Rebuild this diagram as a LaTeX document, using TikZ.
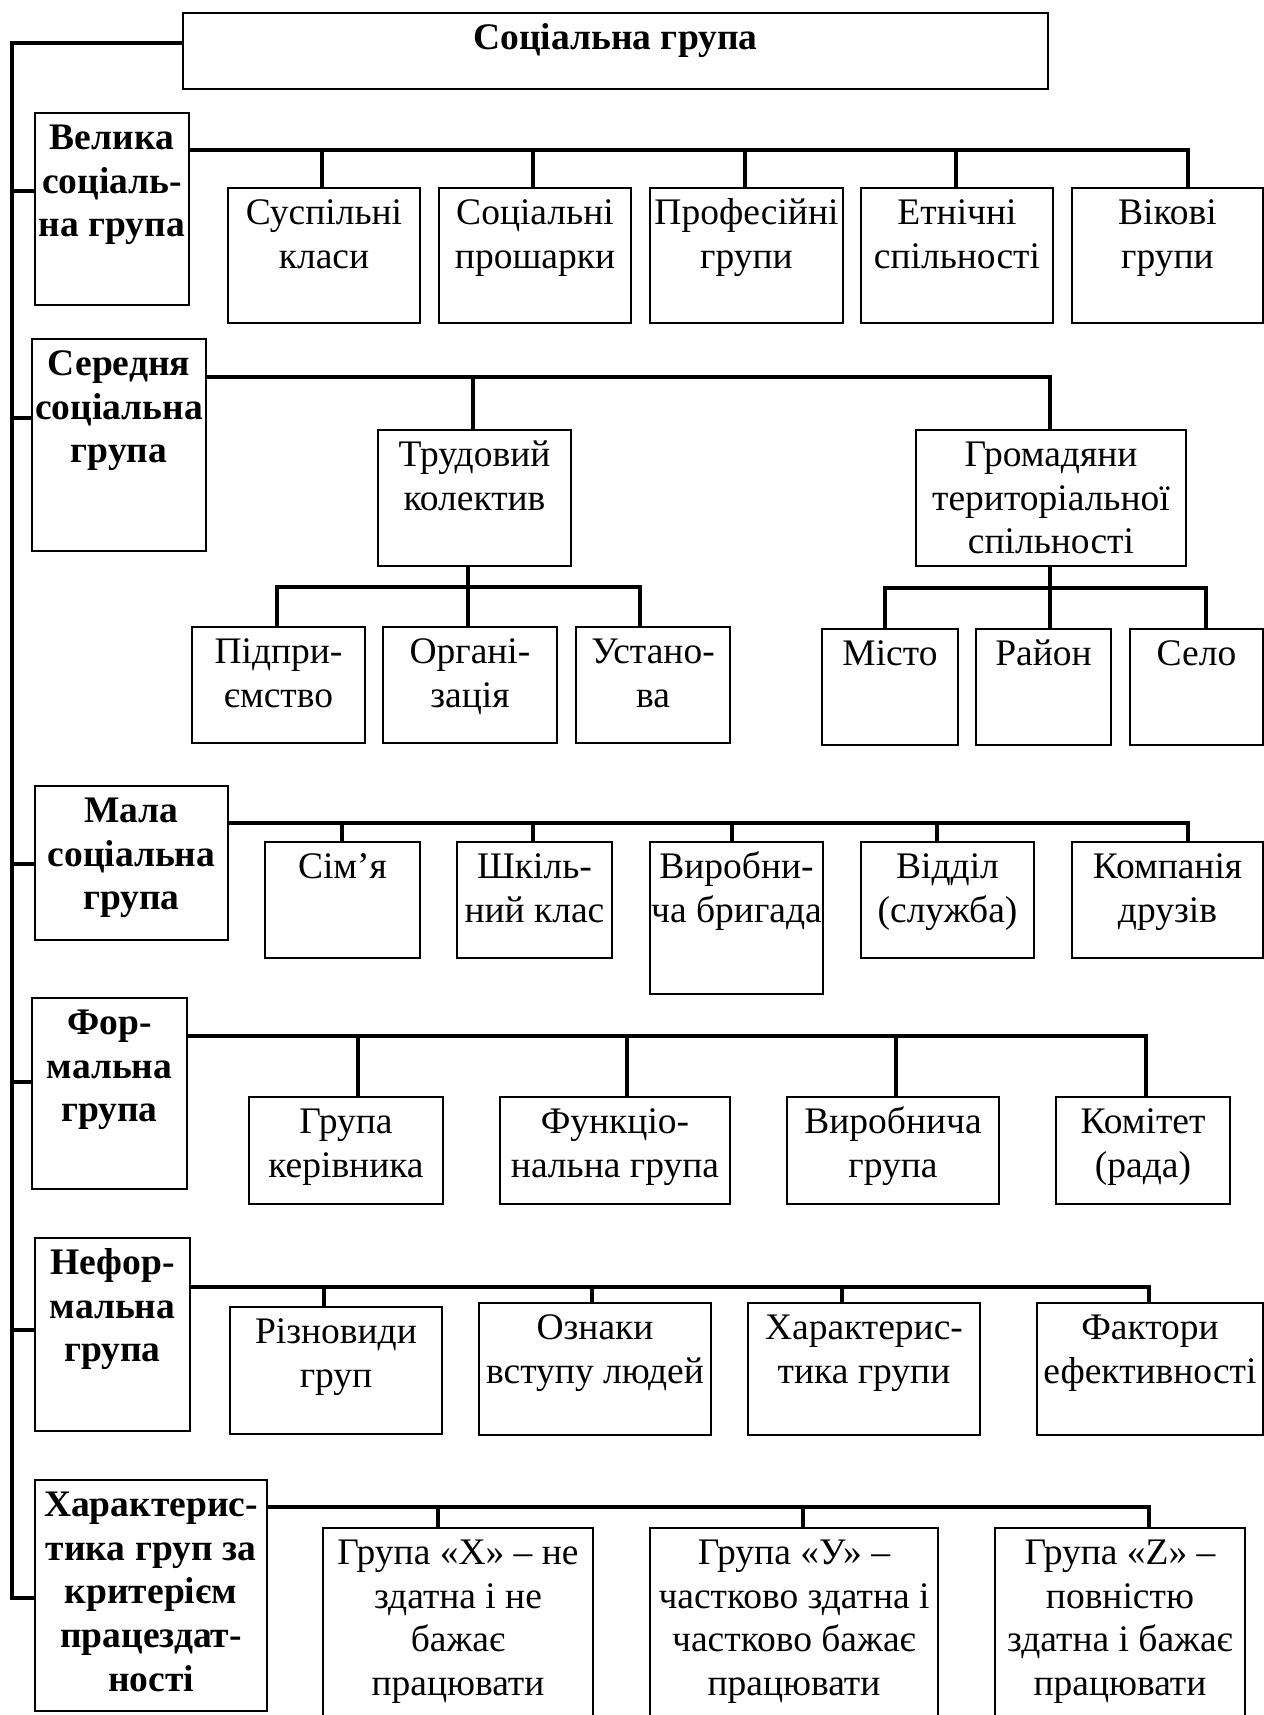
\documentclass[tikz,border=0pt]{standalone}
\usepackage{fontspec}
\setmainfont{Liberation Serif}
\newlength{\pix}
\setlength{\pix}{0.4pt}
\newcommand{\boxtext}[3]{\parbox[t][#2\pix][t]{#1\pix}{\centering\rule{0pt}{14.5pt}#3}}
\tikzset{%
	box/.style={draw,thick,inner sep=0pt,anchor=north west,font=\fontsize{15}{17.5}\selectfont},
	head/.style={box,font=\fontsize{15}{17.5}\selectfont\bfseries},
	link/.style={line width=1.8pt},
}

\begin{document}
\begin{tikzpicture}[x=0.4pt,y=-0.4pt]
			\useasboundingbox (0,0) rectangle (1264,1715);
			\clip (0,0) rectangle (1264,1715);
			
			%GLAVNA
			\node[head] (soc) at (182,12) {\boxtext{865}{76}{Соціальна група}};
			
			%VELYKA
			\node[head] (vel) at (34,112) {\boxtext{154}{192}{Велика\\соціаль-\\на група}};
			\node[box] (sus) at (227,187) {\boxtext{192}{135}{Суспільні\\класи}};
			\node[box] (sot) at (438,187) {\boxtext{192}{135}{Соціальні\\прошарки}};
			\node[box] (pro) at (649,187) {\boxtext{193}{135}{Професійні\\групи}};
			\node[box] (etn) at (860,187) {\boxtext{192}{135}{Етнічні\\спільності}};
			\node[box] (vik) at (1071,187) {\boxtext{191}{135}{Вікові\\групи}};
			
			%SEREDNJA
			\node[head] (ser) at (31,338) {\boxtext{174}{212}{Середня\\соціальна\\група}};
			\node[box] (tru) at (377,429) {\boxtext{193}{136}{Трудовий\\колектив}};
			\node[box] (hro) at (915,429) {\boxtext{270}{136}{Громадяни\\територіальної\\спільності}};
			\node[box] (pid) at (191,626) {\boxtext{173}{116}{Підпри-\\ємство}};
			\node[box] (org) at (382,626) {\boxtext{174}{116}{Органі-\\зація}};
			\node[box] (ust) at (575,626) {\boxtext{154}{116}{Устано-\\ва}};
			\node[box] (mis) at (821,628) {\boxtext{136}{116}{Місто}};
			\node[box] (ray) at (975,628) {\boxtext{135}{116}{Район}};
			\node[box] (sel) at (1129,628) {\boxtext{133}{116}{Село}};
			
			%MALA
			\node[head] (mal) at (34,785) {\boxtext{193}{154}{Мала\\соціальна\\група}};
			\node[box] (sim) at (264,841) {\boxtext{155}{116}{Сім’я}};
			\node[box] (shk) at (456,841) {\boxtext{155}{116}{Шкіль-\\ний клас}};
			\node[box] (vyr) at (649,841) {\boxtext{173}{152}{Виробни-\\ча бригада}};
			\node[box] (vid) at (860,841) {\boxtext{173}{116}{Відділ\\(служба)}};
			\node[box] (kom) at (1071,841) {\boxtext{191}{116}{Компанія\\друзів}};
			
			%FORMALNA
			\node[head] (frm) at (31,997) {\boxtext{155}{191}{Фор-\\мальна\\група}};
			\node[box] (ker) at (248,1096) {\boxtext{194}{107}{Група\\керівника}};
			\node[box] (fun) at (499,1096) {\boxtext{230}{107}{Функціо-\\нальна група}};
			\node[box] (vgr) at (786,1096) {\boxtext{212}{107}{Виробнича\\група}};
			\node[box] (kmt) at (1055,1096) {\boxtext{174}{107}{Комітет\\(рада)}};
			
			%NEFORMALNA
			\node[head] (nef) at (34,1237) {\boxtext{155}{193}{Нефор-\\мальна\\група}};
			\node[box] (riz) at (229,1306) {\boxtext{212}{127}{Різновиди\\груп}};
			\node[box] (ozn) at (478,1302) {\boxtext{232}{132}{Ознаки\\вступу людей}};
			\node[box] (xgr) at (747,1302) {\boxtext{232}{132}{Характерис-\\тика групи}};
			\node[box] (fak) at (1036,1302) {\boxtext{226}{132}{Фактори\\ефективності}};
			
			%KRITERIJ
			\node[head] (krt) at (34,1479) {\boxtext{232}{231}{Характерис-\\тика груп за\\критерієм\\працездат-\\ності}};
			\node[box] (gx) at (322,1527) {\boxtext{270}{220}{Група «Х» – не\\здатна і не\\бажає\\працювати}};
			\node[box] (gy) at (649,1527) {\boxtext{288}{220}{Група «У» –\\частково здатна і\\частково бажає\\працювати}};
			\node[box] (gz) at (994,1527) {\boxtext{250}{220}{Група «Z» –\\повністю\\здатна і бажає\\працювати}};
			
			%LEVA CRTA
			\coordinate (top) at (12,43);
			\coordinate (bot) at (12,1598);
			\draw[link] (soc.west |- top) -- (top) -- (bot) -- (krt.west |- bot);
			\coordinate (s1) at (12,191);
			\coordinate (s2) at (12,418);
			\coordinate (s3) at (12,864);
			\coordinate (s4) at (12,1082);
			\coordinate (s5) at (12,1330);
			\draw[link] (s1) -- (s1 -| vel.west); %velyka
			\draw[link] (s2) -- (s2 -| ser.west); %serednja
			\draw[link] (s3) -- (s3 -| mal.west); %mala
			\draw[link] (s4) -- (s4 -| frm.west); %formalna
			\draw[link] (s5) -- (s5 -| nef.west); %neformalna
			
			%VEJE VELYKA
			\coordinate (v1) at (322,150);
			\coordinate (v2) at (533,150);
			\coordinate (v3) at (745,150);
			\coordinate (v4) at (956,150);
			\coordinate (v5) at (1188,150);
			\draw[link] (v5 -| vel.east) -- (v5) -- (v5 |- vik.north);
			\draw[link] (v1) -- (v1 |- sus.north);
			\draw[link] (v2) -- (v2 |- sot.north);
			\draw[link] (v3) -- (v3 |- pro.north);
			\draw[link] (v4) -- (v4 |- etn.north);
			
			%VEJE SEREDNJA
			\coordinate (c1) at (473,377);
			\coordinate (c2) at (1050,377);
			\draw[link] (c2 -| ser.east) -- (c2) -- (c2 |- hro.north);
			\draw[link] (c1) -- (c1 |- tru.north);
			\coordinate (t1) at (277,587);
			\coordinate (t2) at (468,587);
			\coordinate (t3) at (640,587);
			\draw[link] (t2 |- tru.south) -- (t2 |- org.north); %trudovyj
			\draw[link] (t1 |- pid.north) -- (t1) -- (t3) -- (t3 |- ust.north);
			\coordinate (h1) at (885,588);
			\coordinate (h2) at (1050,588);
			\coordinate (h3) at (1206,588);
			\draw[link] (h2 |- hro.south) -- (h2 |- ray.north); %gromadjany
			\draw[link] (h1 |- mis.north) -- (h1) -- (h3) -- (h3 |- sel.north);
			
			%VEJE MALA
			\coordinate (m1) at (342,823);
			\coordinate (m2) at (533,823);
			\coordinate (m3) at (732,823);
			\coordinate (m4) at (937,823);
			\coordinate (m5) at (1188,823);
			\draw[link] (m5 -| mal.east) -- (m5) -- (m5 |- kom.north);
			\draw[link] (m1) -- (m1 |- sim.north);
			\draw[link] (m2) -- (m2 |- shk.north);
			\draw[link] (m3) -- (m3 |- vyr.north);
			\draw[link] (m4) -- (m4 |- vid.north);
			
			%VEJE FORMALNA
			\coordinate (f1) at (358,1036);
			\coordinate (f2) at (627,1036);
			\coordinate (f3) at (896,1036);
			\coordinate (f4) at (1146,1036);
			\draw[link] (f4 -| frm.east) -- (f4) -- (f4 |- kmt.north);
			\draw[link] (f1) -- (f1 |- ker.north);
			\draw[link] (f2) -- (f2 |- fun.north);
			\draw[link] (f3) -- (f3 |- vgr.north);
			
			%VEJE NEFORMALNA
			\coordinate (n1) at (324,1287);
			\coordinate (n2) at (592,1287);
			\coordinate (n3) at (842,1287);
			\coordinate (n4) at (1149,1287);
			\draw[link] (n4 -| nef.east) -- (n4) -- (n4 |- fak.north);
			\draw[link] (n1) -- (n1 |- riz.north);
			\draw[link] (n2) -- (n2 |- ozn.north);
			\draw[link] (n3) -- (n3 |- xgr.north);
			
			%VEJE KRITERIJ
			\coordinate (k1) at (438,1507);
			\coordinate (k2) at (803,1507);
			\coordinate (k3) at (1149,1507);
			\draw[link] (k3 -| krt.east) -- (k3) -- (k3 |- gz.north);
			\draw[link] (k1) -- (k1 |- gx.north);
			\draw[link] (k2) -- (k2 |- gy.north);
			
			\end{tikzpicture}
\end{document}
